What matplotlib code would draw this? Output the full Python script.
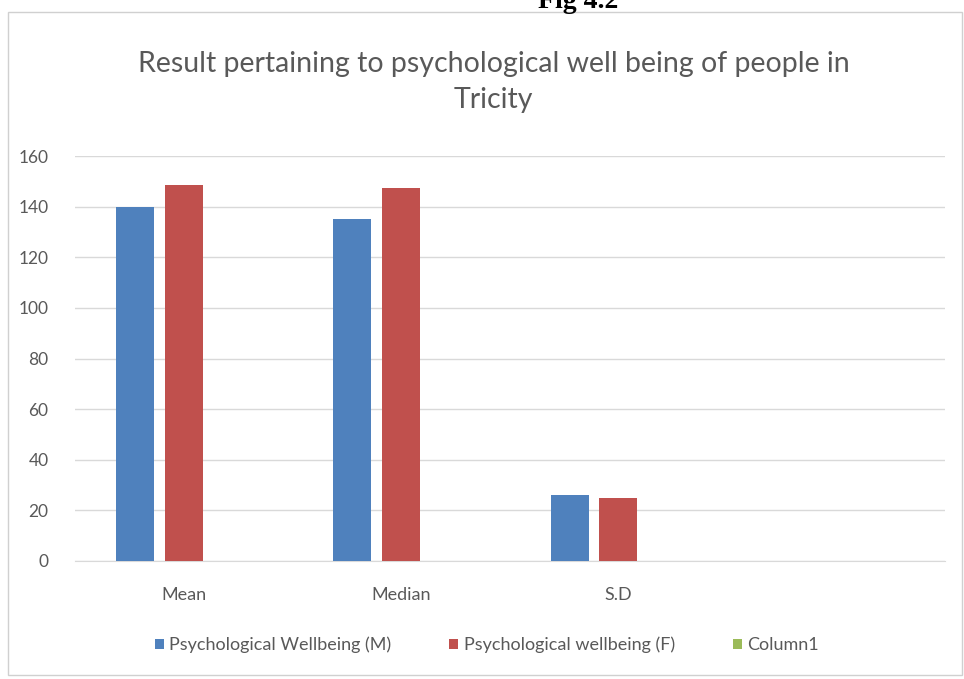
import matplotlib
matplotlib.use("Agg")
import matplotlib.pyplot as plt
from matplotlib.patches import Rectangle, Patch
import numpy as np

categories = ["Mean", "Median", "S.D", ""]
series_names = ["Psychological Wellbeing (M)", "Psychological wellbeing (F)", "Column1"]
male = [140, 135, 26, None]
female = [148.5, 147.5, 25, None]
column1 = [None, None, None, None]
colors = ["#4F81BD", "#C0504D", "#9BBB59"]
yticks = [0, 20, 40, 60, 80, 100, 120, 140, 160]

plt.rcParams['font.family'] = ['Lato', 'DejaVu Sans']
fig = plt.figure(figsize=(9.64, 6.79), dpi=100)
ax = fig.add_axes([0.0778, 0.174, 0.902, 0.596])

x = np.arange(len(categories))
width = 0.175
offsets = [-0.225, 0.0, 0.225]
for vals, off, c in zip([male, female, column1], offsets, colors):
    xs = [xi + off for xi, v in zip(x, vals) if v is not None]
    hs = [v for v in vals if v is not None]
    if hs:
        ax.bar(xs, hs, width=width, color=c, zorder=3)

ax.set_xlim(-0.5, len(categories) - 0.5)
ax.set_ylim(0, 160)
ax.set_yticks(yticks)
ax.set_yticklabels([str(t) for t in yticks], color="#595959", fontsize=12.5)
ax.set_xticks(x)
ax.set_xticklabels(categories, color="#595959", fontsize=13)
ax.tick_params(axis='both', length=0)
ax.tick_params(axis='y', pad=19)
ax.tick_params(axis='x', pad=19)
ax.yaxis.grid(True, color="#D9D9D9", linewidth=1, zorder=0)
for s in ["top", "right", "left"]:
    ax.spines[s].set_visible(False)
ax.spines["bottom"].set_color("#D9D9D9")

fig.text(0.512, 1 - 82 / 679, "Result pertaining to psychological well being of people in\nTricity",
         ha="center", va="center", fontsize=20.5, color="#595959", linespacing=1.5)

handles = [Patch(facecolor=c, edgecolor='none') for c in colors]
fig.legend(handles, series_names, loc="center", bbox_to_anchor=(0.505, 1 - 645 / 679),
           ncol=3, frameon=False, fontsize=13, labelcolor="#595959",
           handlelength=0.5, handleheight=0.5, handletextpad=0.3, columnspacing=3.2)

fig.patches.append(Rectangle((8 / 964, 1 - 675 / 679), 954 / 964, 663 / 679,
                             transform=fig.transFigure, fill=False,
                             edgecolor="#D0D0D0", linewidth=1))

fig.text(0.60, 1 - 8 / 679, "Fig 4.2", ha="center", va="baseline",
         fontsize=20, fontweight="bold", family=["Liberation Serif", "DejaVu Serif"])

fig.savefig("out.png", dpi=100)
